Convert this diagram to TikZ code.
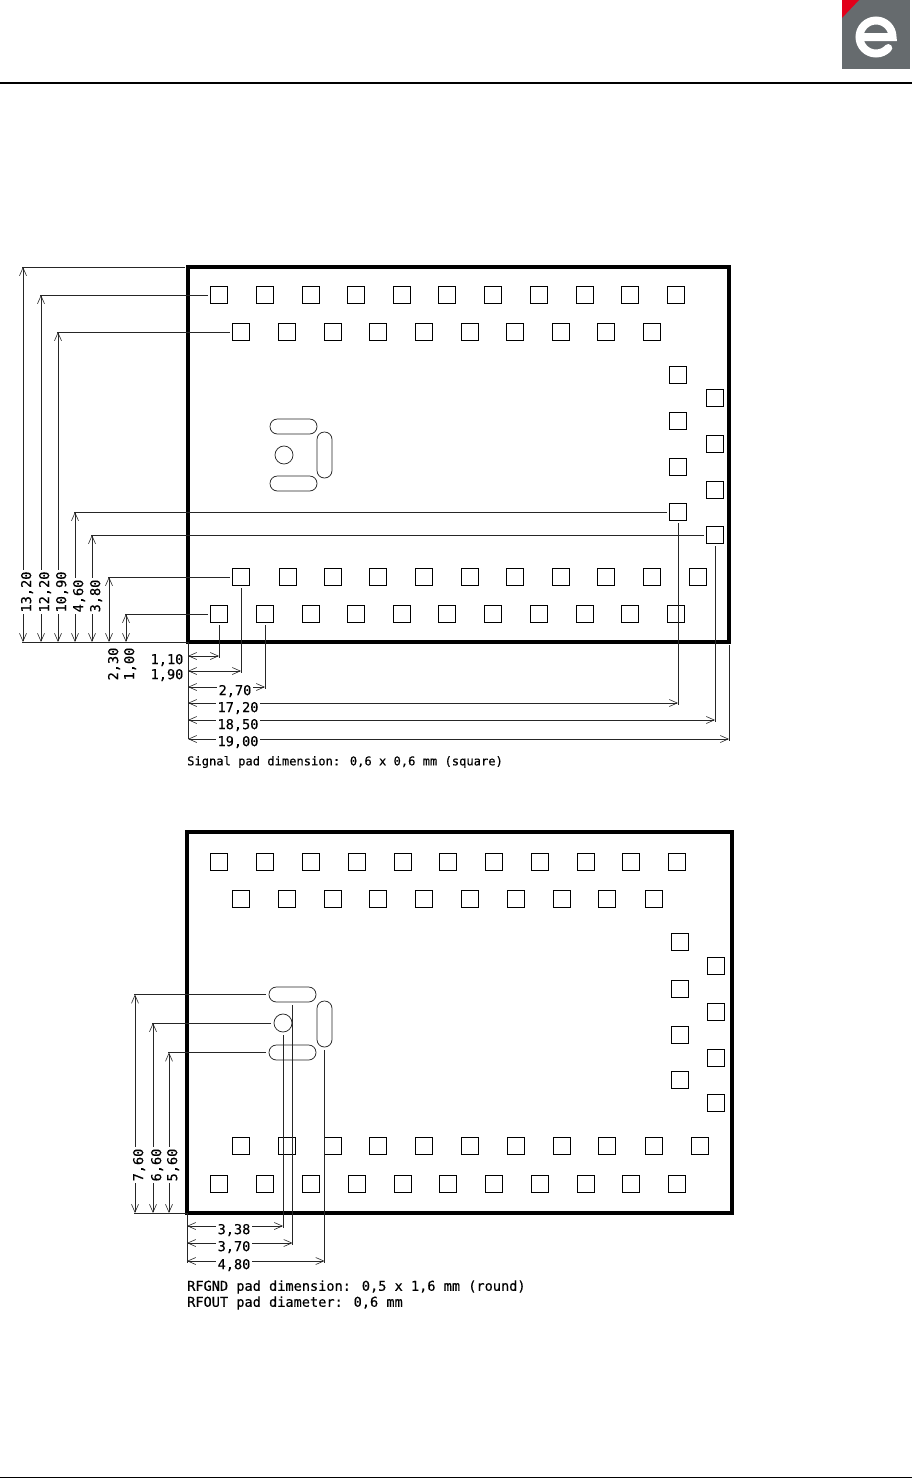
\documentclass[tikz,border=0pt]{standalone}
\usepackage{fontspec}
\setmainfont{DejaVu Sans Mono}
\newfontfamily\dimfont[FakeBold=0.35]{DejaVu Sans Mono}
\usetikzlibrary{arrows.meta}
\definecolor{logogray}{HTML}{666B6E}
\definecolor{logored}{HTML}{E2001A}
\tikzset{
  pad/.style={draw=black,line width=0.85pt,rectangle,minimum width=16.5pt,minimum height=16.5pt,inner sep=0pt,outer sep=0pt},
  rpad/.style={draw=black!85,line width=0.75pt,rectangle,rounded corners=7.4pt,inner sep=0pt,outer sep=0pt},
  cpad/.style={draw=black!85,line width=0.75pt,circle,minimum size=18pt,inner sep=0pt,outer sep=0pt},
  board/.style={draw=black,line width=3.2pt,rectangle,inner sep=0pt,outer sep=0pt},
  lead/.style={line width=0.8pt,black!85,shorten <=3pt,shorten >=-1.5pt},
  dimline/.style={line width=0.75pt,black!85,{Straight Barb[length=8pt,width=7pt,line width=0.6pt]}-{Straight Barb[length=8pt,width=7pt,line width=0.6pt]}},
  lab/.style={font=\dimfont\fontsize{13.6}{14}\selectfont,inner sep=1.5pt,fill=white},
  vlab/.style={lab,rotate=90},
  note/.style={font=\dimfont\fontsize{13.6}{14}\selectfont,anchor=west,inner sep=0pt},
  notesmall/.style={note,font=\dimfont\fontsize{12.1}{14}\selectfont}
}
% pad anchor, dimension x, origin coordinate
\newcommand\vdimline[3]{%
  \coordinate (tmpc) at (#2,0);
  \draw[lead] (#1) -- (#1 -| tmpc);
  \draw[dimline] (#1 -| tmpc) -- (#3 -| tmpc);
}
% pad anchor, dimension y, origin coordinate
\newcommand\hdimline[3]{%
  \coordinate (tmpc) at (0,#2);
  \draw[lead] (#1) -- (#1 |- tmpc);
  \draw[dimline] (#3 |- tmpc) -- (#1 |- tmpc);
}
\begin{document}
\begin{tikzpicture}[x=1pt,y=-1pt]
\useasboundingbox (0,0) rectangle (913,1478);
\fill[white] (0,0) rectangle (913,1478);
% header and footer
\coordinate (hl) at (0,83); \coordinate (hr) at (912,83);
\draw[line width=1.2pt] (hl) -- (hr);
\coordinate (fl) at (0,1477); \coordinate (fr) at (912,1477);
\draw[line width=1pt] (fl) -- (fr);
% logo
\fill[logogray] (842,0) rectangle (910,69);
\fill[logored] (842,0) -- (859,0) -- (842,18) -- cycle;
\begin{scope}[shift={(876,37)},y=1pt]
  \draw[white,line width=8pt,line cap=round] (-16,0) -- (16.5,0) arc[start angle=0,end angle=318,radius=16.5pt];
\end{scope}

% ===== upper drawing =====
\node[board,minimum width=541pt,minimum height=375pt] (fa) at (458.5,454.5) {};
\foreach \x [count=\i] in {219,265,311,356,402,447,493,539,585,630,676}{
  \node[pad] (aa\i) at (\x,295) {};
  \node[pad] (ad\i) at (\x,614) {};
}
\foreach \x [count=\i] in {241,287,333,378,424,470,515,561,606,652}{
  \node[pad] (ab\i) at (\x,332) {};
}
\foreach \x [count=\i] in {241,288,333,378,424,470,515,561,606,652,698}{
  \node[pad] (ac\i) at (\x,577) {};
}
\foreach \y [count=\i] in {375,421,467,512}{ \node[pad] (ae\i) at (678,\y) {}; }
\foreach \y [count=\i] in {398,444,490,535}{ \node[pad] (af\i) at (715,\y) {}; }
\node[rpad,minimum width=47pt,minimum height=15pt] (ar1) at (293.5,426.5) {};
\node[rpad,minimum width=47pt,minimum height=15pt] (ar2) at (293.5,483.5) {};
\node[rpad,minimum width=15pt,minimum height=46pt] (ar3) at (324.5,455) {};
\node[cpad] (ao0) at (284,455) {};

\coordinate (ao) at (fa.south west);
\coordinate (abl) at (22,642);
\draw[lead,shorten <=0pt,shorten >=0pt] (abl) -- (ao);
\coordinate (atl) at (fa.north west);
\vdimline{atl}{23}{ao}
\vdimline{aa1.west}{41}{ao}
\vdimline{ab1.west}{58}{ao}
\vdimline{ae4.west}{75}{ao}
\vdimline{af4.west}{92}{ao}
\vdimline{ac1.west}{109}{ao}
\vdimline{ad1.west}{126}{ao}
\node[vlab] (v1) at (27,592) {13,20};
\node[vlab] (v2) at (45,592) {12,20};
\node[vlab] (v3) at (62,592) {10,90};
\node[vlab] (v4) at (79,596) {4,60};
\node[vlab] (v5) at (96,596) {3,80};
\node[vlab,fill=none] (v6) at (114,664) {2,30};
\node[vlab,fill=none] (v7) at (130,664) {1,00};

\hdimline{ad1.south}{656}{ao}
\hdimline{ac1.south}{671}{ao}
\hdimline{ad2.south}{687}{ao}
\hdimline{ae4.south}{703}{ao}
\hdimline{af4.south}{720}{ao}
\coordinate (ase) at (fa.south east);
\hdimline{ase}{739}{ao}
\coordinate (ao1) at (188,739);
\draw[lead,shorten <=0pt,shorten >=0pt] (ao) -- (ao1);
\node[lab,fill=none] (h1) at (167,660) {1,10};
\node[lab,fill=none] (h2) at (167,675) {1,90};
\node[lab] (h3) at (235,691) {2,70};
\node[lab] (h4) at (238,708) {17,20};
\node[lab] (h5) at (238,725) {18,50};
\node[lab] (h6) at (238,742) {19,00};
\node[notesmall] (n1) at (187,762) {Signal pad dimension: 0,6 x 0,6 mm (square)};

% ===== lower drawing =====
\node[board,minimum width=545pt,minimum height=381pt] (fb) at (459.5,1022.5) {};
\foreach \x [count=\i] in {219,265,311,357,403,448,494,540,586,631,677}{
  \node[pad] (ba\i) at (\x,862) {};
  \node[pad] (bd\i) at (\x,1184) {};
}
\foreach \x [count=\i] in {241,287,333,378,424,470,516,562,607,654}{
  \node[pad] (bb\i) at (\x,899) {};
}
\foreach \x [count=\i] in {241,287,333,378,424,470,516,562,607,654,700}{
  \node[pad] (bc\i) at (\x,1146) {};
}
\foreach \y [count=\i] in {942,989,1035,1080}{ \node[pad] (be\i) at (680,\y) {}; }
\foreach \y [count=\i] in {966,1012,1058,1103}{ \node[pad] (bf\i) at (716,\y) {}; }
\node[rpad,minimum width=47pt,minimum height=15pt] (br1) at (292.5,994.5) {};
\node[rpad,minimum width=47pt,minimum height=15pt] (br2) at (292.5,1052.5) {};
\node[rpad,minimum width=15pt,minimum height=46pt] (br3) at (324.5,1024) {};
\node[cpad] (bo0) at (283,1023) {};

\coordinate (bo) at (fb.south west);
\coordinate (bbl) at (134,1213);
\draw[lead,shorten <=0pt,shorten >=0pt] (bbl) -- (bo);
\vdimline{br1.west}{135}{bo}
\vdimline{bo0.west}{153}{bo}
\vdimline{br2.west}{169}{bo}
\node[vlab] (w1) at (139,1165) {7,60};
\node[vlab] (w2) at (157,1165) {6,60};
\node[vlab] (w3) at (173,1165) {5,60};

\hdimline{bo0.south}{1226}{bo}
\hdimline{br1.south}{1243}{bo}
\hdimline{br3.south}{1261}{bo}
\coordinate (bo1) at (187,1263);
\draw[lead,shorten <=0pt,shorten >=0pt] (bo) -- (bo1);
\node[lab] (k1) at (234,1230) {3,38};
\node[lab] (k2) at (234,1247) {3,70};
\node[lab] (k3) at (234,1265) {4,80};
\node[note] (n2) at (187,1287) {RFGND pad dimension: 0,5 x 1,6 mm (round)};
\node[note] (n3) at (187,1303) {RFOUT pad diameter: 0,6 mm};
\end{tikzpicture}
\end{document}
